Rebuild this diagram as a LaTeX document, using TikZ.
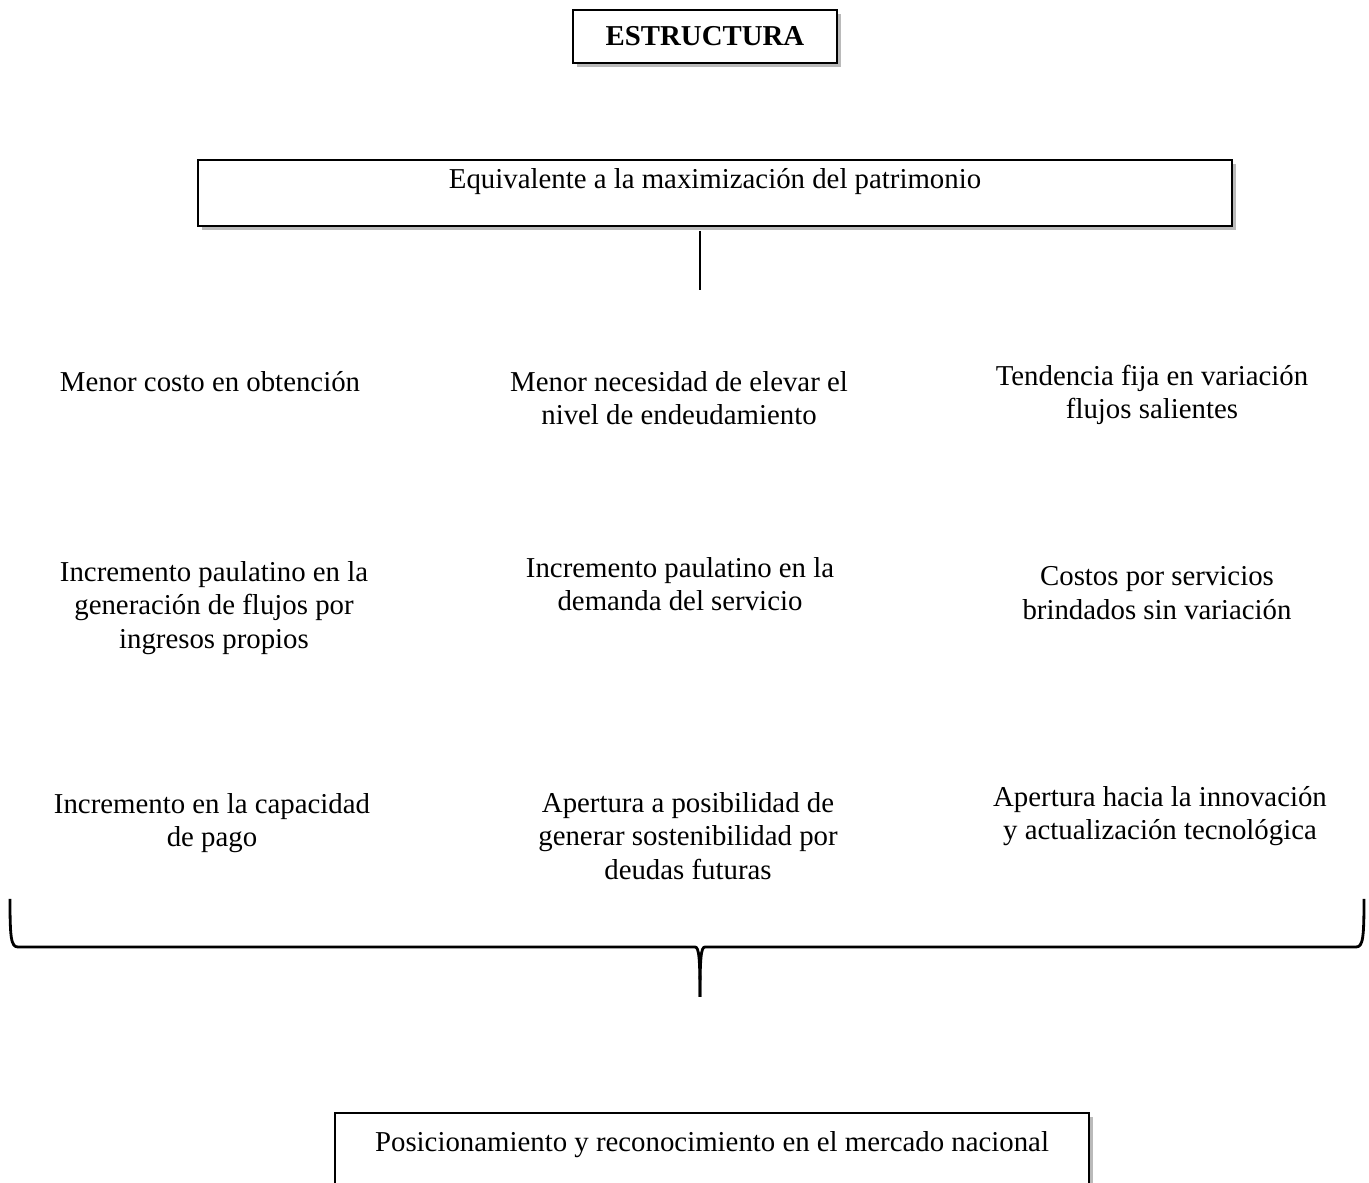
\documentclass[tikz,border=0pt]{standalone}
\usepackage{fontspec}
\setmainfont{Liberation Serif}
\usetikzlibrary{shadows}

\begin{document}
\begin{tikzpicture}[
    caja/.style={draw, line width=1pt, fill=white, inner sep=0pt,
        drop shadow={shadow xshift=0.08cm, shadow yshift=-0.08cm, fill=black!45, opacity=0.6}},
    texto/.style={align=center, font=\fontsize{16.4}{19}\selectfont}]
    \useasboundingbox (0,0) rectangle (27.38,23.66);
    %% title and top box
    \node[caja, texto, font=\fontsize{16.4}{19}\selectfont\bfseries, minimum width=5.28cm, minimum height=1.06cm] (titulo) at (14.10,22.93) {ESTRUCTURA};
    \node[caja, texto, minimum width=20.68cm, minimum height=1.32cm, text height=0.58cm, text depth=0.74cm] (equiv) at (14.30,19.80) {Equivalente a la maximización del patrimonio};
    \coordinate (linea) at (14.00,17.86);
    \draw[line width=1pt] (equiv.south -| linea) ++(0,-0.08) -- (linea);
    %% next three rows are the effects
    \node[texto] (costo) at (4.20,16.02) {Menor costo en obtención};
    \node[texto] (necesidad) at (13.58,15.70) {Menor necesidad de elevar el\\nivel de endeudamiento};
    \node[texto] (tendencia) at (23.04,15.76) {Tendencia fija en variación\\flujos salientes};
    \node[texto] (flujos) at (4.28,11.50) {Incremento paulatino en la\\generación de flujos por\\ingresos propios};
    \node[texto] (demanda) at (13.60,11.98) {Incremento paulatino en la\\demanda del servicio};
    \node[texto] (servicios) at (23.14,11.80) {Costos por servicios\\brindados sin variación};
    \node[texto] (pago) at (4.24,7.20) {Incremento en la capacidad\\de pago};
    \node[texto] (deudas) at (13.76,6.94) {Apertura a posibilidad de\\generar sostenibilidad por\\deudas futuras};
    \node[texto] (innovacion) at (23.20,7.34) {Apertura hacia la innovación\\y actualización tecnológica};
    %% the brace
    \draw[line width=1.6pt] (0.20,5.68) .. controls (0.20,4.90) and (0.22,4.72) .. (0.36,4.72) -- (13.90,4.72) .. controls (13.98,4.72) and (14.00,4.50) .. (14.00,3.72);
    \draw[line width=1.6pt] (27.28,5.68) .. controls (27.28,4.90) and (27.26,4.72) .. (27.12,4.72) -- (14.10,4.72) .. controls (14.02,4.72) and (14.00,4.50) .. (14.00,3.72);
    %% bottom box, cut by the page
    \node[caja, texto, anchor=north, minimum width=15.08cm, text height=0.58cm, text depth=1.2cm, inner ysep=0.2cm] (mercado) at (14.24,1.42) {Posicionamiento y reconocimiento en el mercado nacional};
\end{tikzpicture}
\end{document}
